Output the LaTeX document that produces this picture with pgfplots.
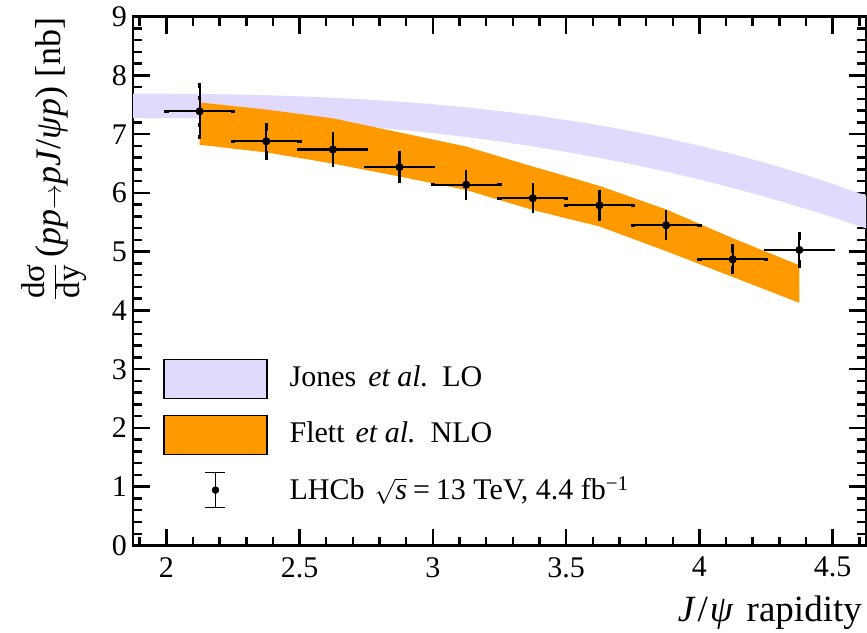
\documentclass[border=0pt]{standalone}
\usepackage{fontspec}
\setmainfont{Liberation Serif}
\usepackage{pgfplots}
\pgfplotsset{compat=1.18}
\usepackage{pgfplotstable}
\usepgfplotslibrary{fillbetween}

\definecolor{loband}{RGB}{226,218,252}
\definecolor{nloband}{RGB}{255,153,0}

% LO prediction (Jones et al.): upper and lower edge of the band
\pgfplotstableread{
x     up     lo
1.875 7.690  7.280
2.000 7.689  7.277
2.125 7.684  7.268
2.250 7.676  7.254
2.375 7.663  7.232
2.500 7.645  7.204
2.625 7.621  7.169
2.750 7.591  7.127
2.875 7.554  7.077
3.000 7.510  7.018
3.125 7.457  6.952
3.250 7.395  6.877
3.375 7.324  6.793
3.500 7.243  6.700
3.625 7.151  6.597
3.750 7.048  6.485
3.875 6.933  6.362
4.000 6.805  6.229
4.125 6.664  6.085
4.250 6.509  5.931
4.375 6.340  5.764
4.500 6.156  5.587
4.625 5.956  5.397
}\lotab

% NLO prediction (Flett et al.)
\pgfplotstableread{
x     up    lo
2.125 7.54  6.82
2.375 7.42  6.69
2.625 7.27  6.50
2.875 7.03  6.28
3.125 6.79  6.05
3.375 6.45  5.71
3.625 6.12  5.43
3.875 5.72  5.01
4.125 5.23  4.57
4.375 4.77  4.13
}\nlotab

% LHCb measurement: central value, statistical and total uncertainty
\pgfplotstableread{
x     ex     y     stat  tot
2.125 0.125  7.39  0.23  0.44
2.375 0.125  6.88  0.21  0.28
2.625 0.125  6.74  0.19  0.26
2.875 0.125  6.44  0.18  0.24
3.125 0.125  6.14  0.16  0.22
3.375 0.125  5.91  0.16  0.22
3.625 0.125  5.79  0.17  0.23
3.875 0.125  5.45  0.16  0.22
4.125 0.125  4.87  0.15  0.22
4.375 0.125  5.03  0.20  0.27
}\datatab

\newcommand\labelfont{\fontsize{30}{35}\selectfont}

\begin{document}
\labelfont
\begin{tikzpicture}
\begin{axis}[
  scale only axis,
  width=733pt, height=528.8pt,
  xmin=1.875, xmax=4.625, ymin=0, ymax=9,
  xtick={2,2.5,3,3.5,4,4.5},
  ytick={0,1,2,3,4,5,6,7,8,9},
  minor xtick={1.9,2.0,2.1,2.2,2.3,2.4,2.6,2.7,2.8,2.9,3.1,3.2,3.3,3.4,3.6,3.7,3.8,3.9,4.1,4.2,4.3,4.4,4.6},
  minor ytick={0.2,0.4,...,8.8},
  tick align=inside,
  xtick pos=both, ytick pos=both,
  major tick length=17pt, minor tick length=9pt,
  axis line style={line width=2.5pt},
  every tick/.style={black, line width=2.5pt},
  /pgf/number format/assume math mode=true,
  ticklabel style={font=\labelfont},
  xticklabel style={inner sep=0pt, yshift=-11.5pt},
  yticklabel style={inner sep=0pt, xshift=-6pt},
  xlabel={\textit{J}\kern2pt/\kern2pt\textit{ψ}\hspace{4pt} rapidity},
  xlabel style={at={(rel axis cs:1,0)}, anchor=north east, inner sep=0pt,
                yshift=-50pt, xshift=-4pt, font=\fontsize{37}{42}\selectfont},
  legend cell align=left,
  legend style={draw=none, fill=none, inner sep=0pt, outer sep=0pt,
                at={(0.0414,0.3535)}, anchor=north west,
                row sep=15.7pt,
                nodes={inner sep=0pt},
                font=\labelfont,
                /tikz/every odd column/.append style={column sep=22pt}},
]
\addplot[name path=loU, draw=none, forget plot] table[x=x, y=up] {\lotab};
\addplot[name path=loL, draw=none, forget plot] table[x=x, y=lo] {\lotab};
\addplot[fill=loband, draw=none,
  legend image code/.code={
    \path[fill=loband, draw=black, line width=1.3pt] (0pt,-19.5pt) rectangle (103pt,19.5pt);}]
  fill between[of=loU and loL];
\addlegendentry{Jones\hspace{12pt}\textit{et al.}\hspace{14pt}LO}

\addplot[name path=nloU, draw=none, forget plot] table[x=x, y=up] {\nlotab};
\addplot[name path=nloL, draw=none, forget plot] table[x=x, y=lo] {\nlotab};
\addplot[fill=nloband, draw=none,
  legend image code/.code={
    \path[fill=nloband, draw=black, line width=1.3pt] (0pt,-19.5pt) rectangle (103pt,19.5pt);}]
  fill between[of=nloU and nloL];
\addlegendentry{Flett\hspace{11pt}\textit{et al.}\hspace{15pt}NLO}

% statistical part of the uncertainty (inner caps)
\addplot[forget plot, black, only marks, mark=none,
  error bars/.cd, y dir=both, y explicit,
  error bar style={line width=2.2pt},
  error mark options={line width=2.5pt, mark size=2.2pt}]
  table[x=x, y=y, y error=stat] {\datatab};

\addplot[black, only marks, mark=*, mark size=3.8pt,
  legend image code/.code={
    \path[draw=none, fill=none] (0pt,-19.5pt) rectangle (103pt,19.5pt);
    \draw[line width=1.5pt] (51.5pt,-17.5pt) -- (51.5pt,17.5pt);
    \draw[line width=1.5pt] (41.5pt,-17.5pt) -- (61.5pt,-17.5pt);
    \draw[line width=1.5pt] (41.5pt,17.5pt) -- (61.5pt,17.5pt);
    \fill (51.5pt,0pt) circle (3.5pt);},
  error bars/.cd, x dir=both, x explicit, y dir=both, y explicit,
  error bar style={line width=2.2pt},
  error mark options={line width=2.5pt, mark size=2.2pt}]
  table[x=x, y=y, x error=ex, y error=tot] {\datatab};
\addlegendentry{LHCb\hspace{10pt}$\sqrt{\hbox{\textit{s}}}$\hspace{6pt}=\hspace{6pt}13 TeV, 4.4 fb\textsuperscript{−1}}

\coordinate (tl) at (rel axis cs:0,1);
\end{axis}
\node[rotate=90, anchor=base east, inner sep=0pt, font=\fontsize{36}{40}\selectfont]
  at ([xshift=-72pt, yshift=-1pt]tl)
  {$\displaystyle\frac{\hbox{\fontsize{33}{38}\selectfont dσ}}{\hbox{\fontsize{33}{38}\selectfont dy}}$\,(\textit{pp}$\rightarrow$\textit{pJ}/\textit{ψp}) [nb]};
\pgfresetboundingbox
\path (-133pt,-86.5pt) rectangle (734pt,545.5pt);
\end{tikzpicture}
\end{document}
